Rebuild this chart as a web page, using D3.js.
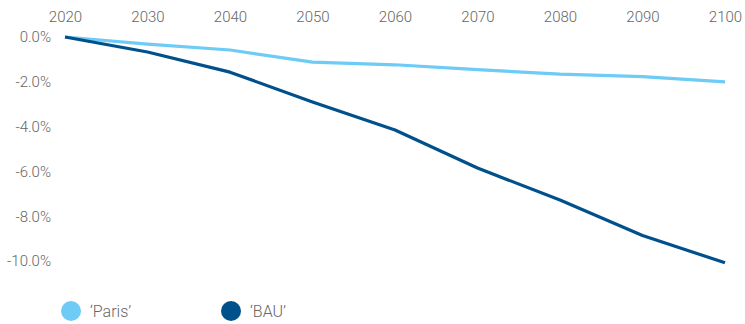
<!DOCTYPE html>
<html>
<head>
<meta charset="utf-8">
<script src="https://cdn.jsdelivr.net/npm/d3@7"></script>
<style>
  body { margin: 0; background: #fff; }
  text { font-family: Roboto, "Open Sans", sans-serif; font-weight: 300; fill: #666; }
</style>
</head>
<body>
<svg id="chart" width="745" height="324"></svg>
<script>
// data
var years = [2020, 2030, 2040, 2050, 2060, 2070, 2080, 2090, 2100];
var paris = [0, -0.32, -0.58, -1.12, -1.24, -1.46, -1.66, -1.77, -2.0];
var bau = [0, -0.67, -1.57, -2.9, -4.15, -5.85, -7.28, -8.86, -10.08];
var yTicks = [0, -2, -4, -6, -8, -10];
var seriesNames = ["\u2018Paris\u2019", "\u2018BAU\u2019"];
var colors = ["#6dcbf6", "#00508c"];

var svg = d3.select("#chart");

var x = d3.scaleLinear().domain([2020, 2100]).range([65, 725]);
var y = d3.scaleLinear().domain([0, -10]).range([37, 261]);

// top axis (labels only)
var xAxis = d3.axisTop(x).tickValues(years).tickFormat(d3.format("d")).tickSize(0).tickPadding(0);
var gx = svg.append("g").attr("transform", "translate(0,22)").call(xAxis);
gx.select(".domain").remove();
gx.selectAll("text").style("font-size", "15px").attr("dy", 0);

// left axis (labels only)
var yAxis = d3.axisLeft(y).tickValues(yTicks).tickFormat(function(d) { return d.toFixed(1) + "%"; }).tickSize(0).tickPadding(0);
var gy = svg.append("g").attr("transform", "translate(51,0)").call(yAxis);
gy.select(".domain").remove();
gy.selectAll("text").style("font-size", "15px");

var line = d3.line()
    .x(function(d, i) { return x(years[i]); })
    .y(function(d) { return y(d); });

[paris, bau].forEach(function(s, i) {
    svg.append("path")
        .attr("fill", "none")
        .attr("stroke", colors[i])
        .attr("stroke-width", 3.2)
        .attr("stroke-linejoin", "round")
        .attr("d", line(s));
});

// legend
var legX = [71, 231];
seriesNames.forEach(function(n, i) {
    svg.append("circle").attr("cx", legX[i]).attr("cy", 311).attr("r", 10).attr("fill", colors[i]);
    svg.append("text").attr("x", legX[i] + 19).attr("y", 316.5)
        .style("font-size", "16px").text(n);
});
</script>
</body>
</html>
